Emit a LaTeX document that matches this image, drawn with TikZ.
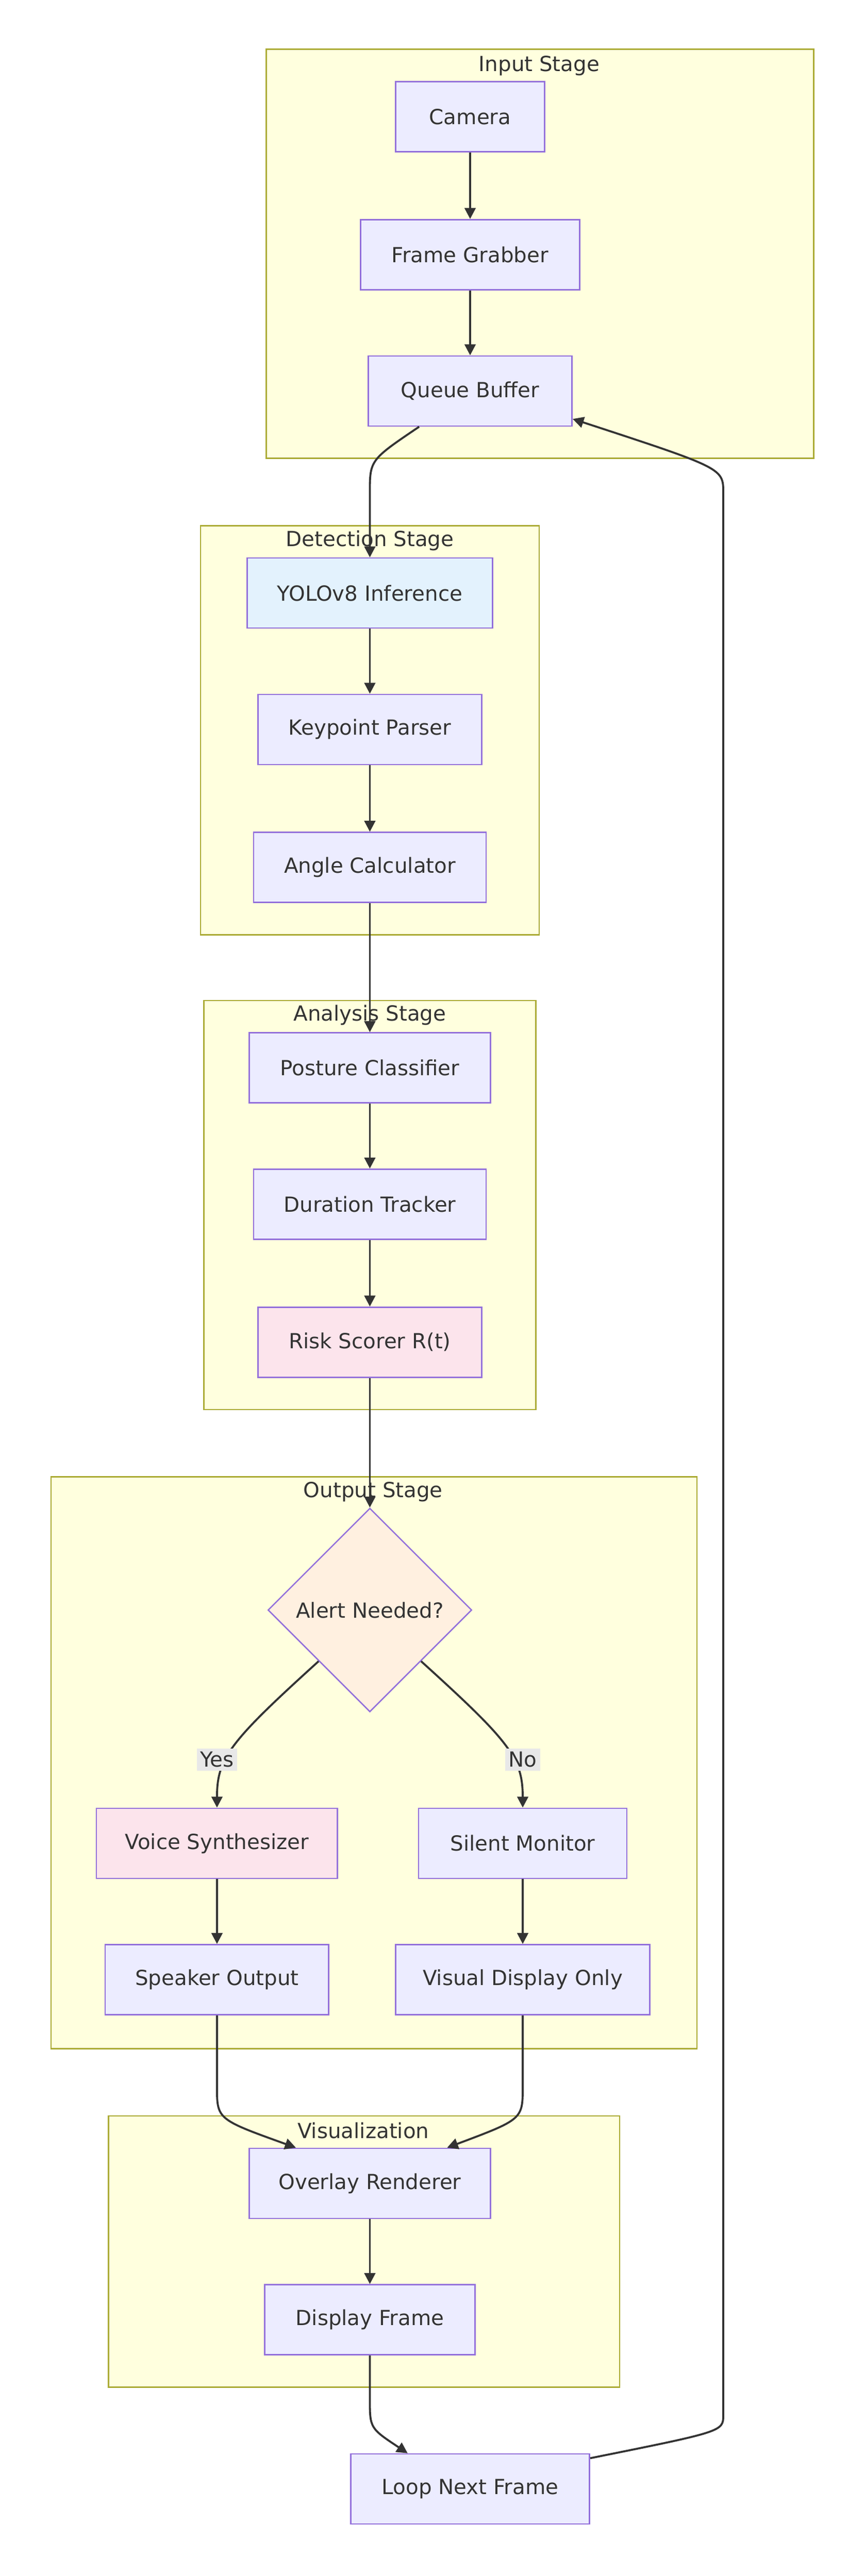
\documentclass[tikz,border=0pt]{standalone}
\usepackage{fontspec}
\setmainfont{DejaVu Sans}
\usetikzlibrary{shapes.geometric,arrows.meta,calc}
\definecolor{nodefill}{HTML}{ECECFF}
\definecolor{nodeline}{HTML}{9370DB}
\definecolor{clusterfill}{HTML}{FFFFDE}
\definecolor{clusterline}{HTML}{AAAA33}
\definecolor{txt}{HTML}{333333}
\definecolor{bluefill}{HTML}{E3F2FD}
\definecolor{pinkfill}{HTML}{FCE4EC}
\definecolor{orangefill}{HTML}{FFF0E0}
\definecolor{labelfill}{HTML}{E8E8E8}
\begin{document}
\begin{tikzpicture}[x=0.75pt,y=-0.75pt,font=\fontsize{9.5}{11}\selectfont,text=txt]
    %
    % `box' is used for the process steps, `decision' for the diamond.
    % `stage' is used for the yellow background clusters.
    \tikzstyle{box} = [draw=nodeline,fill=nodefill,line width=0.6pt,minimum height=32pt,inner sep=0pt]
    \tikzstyle{decision} = [draw=nodeline,fill=orangefill,line width=0.6pt,shape=diamond,minimum width=93pt,minimum height=93pt,inner sep=0pt]
    \tikzstyle{stage} = [draw=clusterline,fill=clusterfill,line width=0.6pt]
    \tikzstyle{title} = [inner sep=1pt]
    \tikzstyle{arr} = [draw=txt,line width=0.9pt,-{Triangle[length=5pt,width=5pt]}]
    \tikzstyle{tag} = [fill=labelfill,inner sep=1.5pt]
    %
    \useasboundingbox (0,0) rectangle (526,1568);
    %
    % Stages
    \draw[stage] (162,30) rectangle (495,279);
    \node[title] (tin) at (328,40) {Input Stage};
    \draw[stage] (122,320) rectangle (328,569);
    \node[title] (tdet) at (225,329) {Detection Stage};
    \draw[stage] (124,609) rectangle (326,858);
    \node[title] (tana) at (225,618) {Analysis Stage};
    \draw[stage] (31,899) rectangle (424,1247);
    \node[title] (tout) at (227,908) {Output Stage};
    \draw[stage] (66,1288) rectangle (377,1453);
    \node[title] (tvis) at (221,1297) {Visualization};
    %
    % Input stage
    \node[box,minimum width=68pt] (cam) at (286,71) {Camera};
    \node[box,minimum width=100pt] (grab) at (286,155) {Frame Grabber};
    \node[box,minimum width=93pt] (queue) at (286,238) {Queue Buffer};
    %
    % Detection stage
    \node[box,fill=bluefill,minimum width=112pt] (yolo) at (225,361) {YOLOv8 Inference};
    \node[box,minimum width=102pt] (kp) at (225,444) {Keypoint Parser};
    \node[box,minimum width=106pt] (angle) at (225,528) {Angle Calculator};
    %
    % Analysis stage
    \node[box,minimum width=110pt] (post) at (225,650) {Posture Classifier};
    \node[box,minimum width=106pt] (dur) at (225,733) {Duration Tracker};
    \node[box,fill=pinkfill,minimum width=102pt] (risk) at (225,817) {Risk Scorer R(t)};
    %
    % Output stage
    \node[decision] (alert) at (225,980) {Alert Needed?};
    \node[box,fill=pinkfill,minimum width=110pt] (voice) at (132,1122) {Voice Synthesizer};
    \node[box,minimum width=95pt] (silent) at (318,1122) {Silent Monitor};
    \node[box,minimum width=102pt] (spk) at (132,1205) {Speaker Output};
    \node[box,minimum width=116pt] (vis) at (318,1205) {Visual Display Only};
    %
    % Visualization
    \node[box,minimum width=110pt] (over) at (225,1329) {Overlay Renderer};
    \node[box,minimum width=96pt] (disp) at (225,1412) {Display Frame};
    \node[box,minimum width=109pt] (loop) at (286,1515) {Loop Next Frame};
    \coordinate (back1) at (440,1470);
    \coordinate (back2) at (440,300);
    %
    % Edges
    \draw[arr] (cam) -- (grab);
    \draw[arr] (grab) -- (queue);
    \draw[arr] ($(queue.south)+(-31,0)$) .. controls (225,280) .. (225,300) -- (yolo.north);
    \draw[arr] (yolo) -- (kp);
    \draw[arr] (kp) -- (angle);
    \draw[arr] (angle) -- (post);
    \draw[arr] (post) -- (dur);
    \draw[arr] (dur) -- (risk);
    \draw[arr] (risk) -- (alert.north);
    \draw[arr] (alert.south west) .. controls (140,1060) and (132,1070) .. (voice.north);
    \draw[arr] (alert.south east) .. controls (310,1060) and (318,1070) .. (silent.north);
    \node[tag] (yes) at (132,1071) {Yes};
    \node[tag] (no) at (318,1071) {No};
    \draw[arr] (voice) -- (spk);
    \draw[arr] (silent) -- (vis);
    \draw[arr] (spk.south) -- (132,1270) .. controls (132,1290) .. ($(over.north)+(-45,0)$);
    \draw[arr] (vis.south) -- (318,1270) .. controls (318,1290) .. ($(over.north)+(47,0)$);
    \draw[arr] (disp) -- (over) [draw=none];
    \draw[arr] (over) -- (disp);
    \draw[arr] (disp.south) -- (225,1460) .. controls (225,1478) .. ($(loop.north)+(-38,0)$);
    \draw[arr] ($(loop.north east)+(0,3)$) .. controls (440,1480) .. (back1) -- (back2) .. controls (440,285) .. (queue.east|-255,255);
    %
\end{tikzpicture}
\end{document}
